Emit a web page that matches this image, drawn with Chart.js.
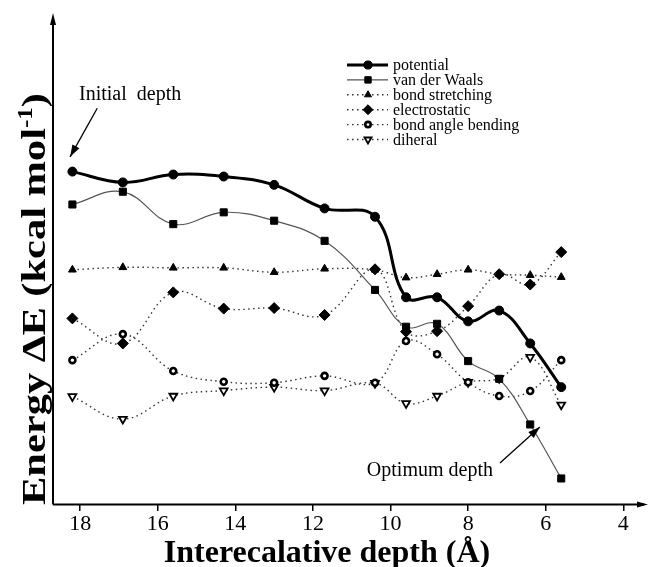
<!DOCTYPE html>
<html>
<head>
<meta charset="utf-8">
<script src="https://cdn.jsdelivr.net/npm/chart.js@4.4.0/dist/chart.umd.min.js"></script>
<style>
    html, body { margin: 0; padding: 0; background: #fff; }
    #wrap { width: 648px; height: 567px; }
</style>
</head>
<body>
<div id="wrap"><canvas id="energyChart" width="648" height="567"></canvas></div>
<script>
'use strict';

// данные (энергия в условных единицах)
const depth = [18.2, 16.9, 15.6, 14.3, 13.0, 11.7, 10.4, 9.6, 8.8, 8.0, 7.2, 6.4, 5.6];
const potential = [67.7, 65.5, 67.1, 66.7, 65.0, 60.2, 58.5, 42.1, 42.1, 37.2, 39.4, 32.7, 23.8];
const vanDerWaals = [61.0, 63.6, 57.0, 59.4, 57.7, 53.6, 43.6, 36.1, 36.7, 29.1, 25.5, 16.2, 5.2];
const bondStretching = [47.7, 48.2, 48.1, 48.1, 47.2, 47.9, 47.7, 46.1, 46.8, 47.7, 46.8, 46.6, 46.2];
const electrostatic = [37.8, 32.7, 43.1, 39.8, 39.9, 38.5, 47.8, 35.1, 35.2, 40.3, 46.8, 44.7, 51.3];
const angleBending = [29.3, 34.6, 27.1, 24.9, 24.7, 26.1, 24.7, 33.2, 30.5, 24.8, 22.0, 23.0, 29.3];
const diheral = [21.9, 17.3, 22.0, 23.1, 23.8, 23.1, 24.6, 20.5, 22.0, 24.8, 25.6, 29.9, 20.2];
const xTicks = [18, 16, 14, 12, 10, 8, 6, 4];

const SERIF = '"Liberation Serif", "Times New Roman", serif';

const toPoints = (ys) => depth.map((x, i) => ({ x: x, y: ys[i] }));

const dotted = [1.5, 3.5];

const datasets = [{
    label: 'potential',
    data: toPoints(potential),
    borderColor: '#000',
    borderWidth: 3,
    pointStyle: 'circle',
    pointRadius: 4.5,
    pointBackgroundColor: '#000',
    pointBorderColor: '#000',
    pointBorderWidth: 1
}, {
    label: 'van der Waals',
    data: toPoints(vanDerWaals),
    borderColor: '#555',
    borderWidth: 1.2,
    pointStyle: 'rect',
    pointRadius: 5,
    pointBackgroundColor: '#000',
    pointBorderColor: '#000',
    pointBorderWidth: 1
}, {
    label: 'bond stretching',
    data: toPoints(bondStretching),
    borderColor: '#333',
    borderWidth: 1.4,
    borderDash: dotted,
    pointStyle: 'triangle',
    pointRadius: 4.5,
    pointBackgroundColor: '#000',
    pointBorderColor: '#000',
    pointBorderWidth: 1
}, {
    label: 'electrostatic',
    data: toPoints(electrostatic),
    borderColor: '#333',
    borderWidth: 1.4,
    borderDash: dotted,
    pointStyle: 'rectRot',
    pointRadius: 5.5,
    pointBackgroundColor: '#000',
    pointBorderColor: '#000',
    pointBorderWidth: 1
}, {
    label: 'bond angle bending',
    data: toPoints(angleBending),
    borderColor: '#333',
    borderWidth: 1.4,
    borderDash: dotted,
    pointStyle: 'circle',
    pointRadius: 3,
    pointBackgroundColor: '#fff',
    pointBorderColor: '#000',
    pointBorderWidth: 2.6
}, {
    label: 'diheral',
    data: toPoints(diheral),
    borderColor: '#333',
    borderWidth: 1.4,
    borderDash: dotted,
    pointStyle: 'triangle',
    pointRotation: 180,
    pointRadius: 4.5,
    pointBackgroundColor: '#fff',
    pointBorderColor: '#000',
    pointBorderWidth: 1.8
}];

// подписи-стрелки, в единицах осей
const notes = [
    { text: 'Initial  depth', tx: 18.03, ty: 82.3, from: [17.56, 80.6], to: [18.26, 70.7] },
    { text: 'Optimum depth', tx: 10.61, ty: 5.7, from: [7.18, 8.35], to: [6.15, 15.7] }
];

function arrowHead(ctx, x1, y1, x2, y2, len, half) {
    const a = Math.atan2(y2 - y1, x2 - x1);
    ctx.beginPath();
    ctx.moveTo(x2, y2);
    ctx.lineTo(x2 - len * Math.cos(a) + half * Math.sin(a), y2 - len * Math.sin(a) - half * Math.cos(a));
    ctx.lineTo(x2 - len * Math.cos(a) - half * Math.sin(a), y2 - len * Math.sin(a) + half * Math.cos(a));
    ctx.closePath();
    ctx.fill();
}

const decorPlugin = {
    id: 'decor',
    afterDraw(chart) {
        const ctx = chart.ctx;
        const area = chart.chartArea;
        const xs = chart.scales.x;
        const ys = chart.scales.y;
        ctx.save();
        ctx.fillStyle = '#000';
        ctx.strokeStyle = '#000';

        // оси со стрелками
        ctx.lineWidth = 2;
        ctx.beginPath();
        ctx.moveTo(area.left, area.bottom + 0.5);
        ctx.lineTo(chart.width - 4, area.bottom + 0.5);
        ctx.moveTo(area.left, area.bottom + 0.5);
        ctx.lineTo(area.left, area.top + 8);
        ctx.stroke();
        arrowHead(ctx, area.left, area.bottom + 0.5, chart.width, area.bottom + 0.5, 11, 3);
        arrowHead(ctx, area.left, area.bottom, area.left, area.top, 12, 3);

        // легенда
        ctx.font = '16px ' + SERIF;
        ctx.textBaseline = 'middle';
        ctx.textAlign = 'left';
        chart.data.datasets.forEach((ds, i) => {
            const y = 65 + i * 14.9;
            ctx.save();
            ctx.strokeStyle = ds.borderColor;
            ctx.lineWidth = ds.borderWidth;
            ctx.setLineDash(ds.borderDash || []);
            ctx.beginPath();
            ctx.moveTo(347, y);
            ctx.lineTo(388, y);
            ctx.stroke();
            ctx.restore();
            ctx.fillStyle = ds.pointBackgroundColor;
            ctx.strokeStyle = ds.pointBorderColor;
            ctx.lineWidth = ds.pointBorderWidth;
            Chart.helpers.drawPoint(ctx, {
                pointStyle: ds.pointStyle,
                rotation: ds.pointRotation || 0,
                radius: ds.pointRadius * 0.9,
                borderWidth: ds.pointBorderWidth
            }, 368, y);
            ctx.fillStyle = '#000';
            ctx.fillText(ds.label, 393, y + 1);
        });

        // стрелки с подписями
        ctx.font = '20px ' + SERIF;
        ctx.textBaseline = 'alphabetic';
        notes.forEach((n) => {
            const x1 = xs.getPixelForValue(n.from[0]);
            const y1 = ys.getPixelForValue(n.from[1]);
            const x2 = xs.getPixelForValue(n.to[0]);
            const y2 = ys.getPixelForValue(n.to[1]);
            ctx.lineWidth = 1.3;
            ctx.beginPath();
            ctx.moveTo(x1, y1);
            ctx.lineTo(x2, y2);
            ctx.stroke();
            arrowHead(ctx, x1, y1, x2, y2, 12, 4);
            ctx.fillText(n.text, xs.getPixelForValue(n.tx), ys.getPixelForValue(n.ty));
        });

        // подпись оси X
        ctx.font = 'bold 32px ' + SERIF;
        ctx.textAlign = 'center';
        ctx.fillText('Interecalative depth (Å)', 327, 562);

        // подпись оси Y (растянута по длине, как в оригинале)
        const main = 'Energy ΔE (kcal mol';
        ctx.save();
        ctx.translate(45, 505);
        ctx.rotate(-Math.PI / 2);
        ctx.textAlign = 'left';
        ctx.font = 'bold 34px ' + SERIF;
        const wMain = ctx.measureText(main).width;
        ctx.font = 'bold 20px ' + SERIF;
        const wSup = ctx.measureText('-1').width;
        ctx.font = 'bold 34px ' + SERIF;
        const wClose = ctx.measureText(')').width;
        ctx.scale(412 / (wMain + wSup + wClose), 1);
        ctx.fillText(main, 0, 0);
        ctx.font = 'bold 20px ' + SERIF;
        ctx.fillText('-1', wMain, -13);
        ctx.font = 'bold 34px ' + SERIF;
        ctx.fillText(')', wMain + wSup, 0);
        ctx.restore();

        ctx.restore();
    }
};

const energyChart = new Chart(document.getElementById('energyChart'), {
    type: 'line',
    data: { datasets: datasets },
    options: {
        responsive: false,
        animation: false,
        devicePixelRatio: 1,
        layout: {
            padding: { left: 53, right: 8, top: 13, bottom: 29.6 }
        },
        elements: {
            line: { tension: 0.4, fill: false }
        },
        plugins: {
            legend: { display: false },
            tooltip: { enabled: false }
        },
        scales: {
            x: {
                type: 'linear',
                reverse: true,
                min: 3.57,
                max: 18.7,
                afterBuildTicks: (scale) => {
                    scale.ticks = xTicks.map((v) => ({ value: v }));
                },
                ticks: {
                    autoSkip: false,
                    maxRotation: 0,
                    padding: 0,
                    color: '#000',
                    font: { family: SERIF, size: 22 }
                },
                grid: {
                    drawOnChartArea: false,
                    drawTicks: true,
                    tickLength: 7,
                    color: '#000',
                    lineWidth: 1.5
                },
                border: { display: false }
            },
            y: {
                type: 'linear',
                min: 0,
                max: 100,
                display: false
            }
        }
    },
    plugins: [decorPlugin]
});
</script>
</body>
</html>
